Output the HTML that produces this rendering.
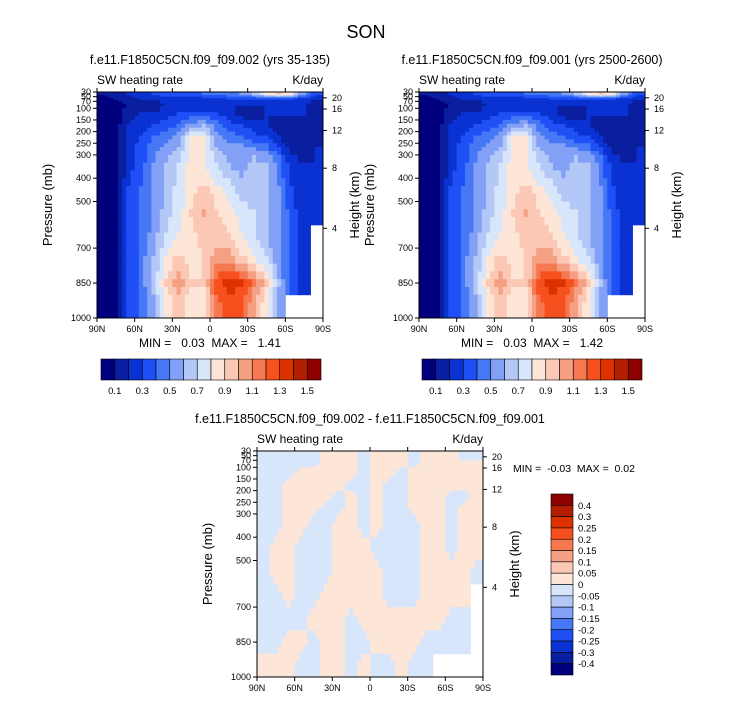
<!DOCTYPE html>
<html><head><meta charset="utf-8"><style>
html,body{margin:0;padding:0;background:#fff;}
svg{display:block;font-family:"Liberation Sans",Arial,sans-serif;}
text{white-space:pre;}
</style></head><body>
<svg id="fig" width="733" height="701" viewBox="0 0 733 701" xmlns="http://www.w3.org/2000/svg">
<text x="366" y="38" font-size="18" text-anchor="middle">SON</text>
<g id="root"></g>
</svg>
<script>
// ---- data ----
const lats=["90N","60N","30N","0","30S","60S","90S"];
const pTicks=[30,50,70,100,150,200,250,300,400,500,700,850,1000];
const hTicks=[20,16,12,8,4];
const hTickP=[55,103,195,357,615];
const pEdges=[30,50,70,100,150,200,250,300,400,500,600,700,800,900,1000];
const levels=[0.1,0.2,0.3,0.4,0.5,0.6,0.7,0.8,0.9,1.0,1.1,1.2,1.3,1.4,1.5];
const levelLabels=["0.1","0.3","0.5","0.7","0.9","1.1","1.3","1.5"];
const colors=["#00007f","#0a1ea0","#0a32d2","#1e50f5","#4678f5","#82a0f5","#b4c8f8","#d7e6fa","#fde6d7","#fac8b4","#f5a082","#f57850","#f5501e","#dc3200","#b41e00","#8c0000"];
const fieldA=[
[0.1,0.15,0.2,0.25,0.3,0.35,0.35,0.35,0.4,0.4,0.45,0.5,0.6,0.8,0.9,0.8,0.5,0.3],
[0.05,0.1,0.15,0.2,0.2,0.25,0.25,0.25,0.25,0.25,0.3,0.3,0.3,0.3,0.3,0.3,0.25,0.2],
[0.05,0.05,0.1,0.15,0.15,0.2,0.2,0.2,0.2,0.2,0.2,0.2,0.2,0.2,0.2,0.2,0.2,0.15],
[0.05,0.05,0.15,0.2,0.2,0.25,0.3,0.35,0.35,0.3,0.25,0.15,0.15,0.2,0.2,0.2,0.2,0.15],
[0.05,0.05,0.2,0.25,0.3,0.35,0.4,0.55,0.6,0.45,0.35,0.3,0.25,0.2,0.15,0.15,0.15,0.15],
[0.05,0.05,0.2,0.3,0.4,0.45,0.55,0.8,0.8,0.55,0.45,0.4,0.35,0.3,0.2,0.1,0.1,0.15],
[0.05,0.05,0.25,0.35,0.45,0.55,0.6,0.85,0.85,0.6,0.55,0.55,0.5,0.45,0.3,0.15,0.15,0.2],
[0.05,0.05,0.25,0.35,0.5,0.6,0.7,0.85,0.8,0.7,0.6,0.55,0.65,0.6,0.45,0.25,0.2,0.2],
[0.05,0.05,0.3,0.4,0.5,0.6,0.75,0.85,0.95,0.85,0.75,0.65,0.65,0.6,0.5,0.3,0.2,0.2],
[0.05,0.05,0.3,0.4,0.5,0.65,0.75,0.9,1.0,0.9,0.85,0.75,0.7,0.6,0.5,0.35,0.25,0.2],
[0.05,0.05,0.3,0.4,0.55,0.7,0.8,0.85,0.95,0.95,0.9,0.8,0.7,0.6,0.5,0.35,0.25,null],
[0.05,0.05,0.3,0.45,0.6,0.8,0.95,0.85,0.9,1.05,1.05,0.95,0.85,0.7,0.5,0.35,0.25,null],
[0.05,0.05,0.3,0.45,0.65,0.9,1.05,0.9,0.9,1.25,1.35,1.3,1.15,0.95,0.6,0.35,0.25,null],
[0.05,0.05,0.3,0.4,0.55,0.8,0.95,0.8,0.85,1.15,1.25,1.2,1.0,0.8,0.55,null,null,null]];
const fieldB=fieldA.map(r=>r.slice());
const diffLevels=[-0.4,-0.3,-0.25,-0.2,-0.15,-0.1,-0.05,0,0.05,0.1,0.15,0.2,0.25,0.3,0.4];
const diffLabels=["-0.4","-0.3","-0.25","-0.2","-0.15","-0.1","-0.05","0","0.05","0.1","0.15","0.2","0.25","0.3","0.4"];
const fieldD=[
[-1,-1,-1,-1,-1,1,1,1,-1,1,1,1,-1,1,1,1,-1,-1],
[-1,-1,-1,-1,-1,1,1,1,-1,1,1,1,-1,1,1,1,-1,-1],
[-1,-1,-1,-1,-1,1,1,1,-1,1,1,1,-1,1,1,1,1,1],
[-1,-1,-1,1,1,1,1,1,-1,1,1,-1,1,1,1,1,1,1],
[-1,-1,1,1,1,1,1,-1,-1,1,-1,-1,1,1,1,1,1,1],
[-1,-1,1,1,1,1,-1,1,-1,1,-1,-1,1,1,1,-1,-1,1],
[-1,-1,1,1,1,-1,-1,1,-1,1,-1,-1,1,1,1,-1,1,1],
[-1,-1,1,1,-1,-1,1,1,-1,1,-1,-1,-1,1,1,-1,1,1],
[-1,1,1,-1,-1,-1,1,1,1,-1,-1,-1,-1,1,1,-1,1,1],
[-1,1,1,-1,-1,-1,1,1,1,1,-1,-1,-1,1,1,1,1,-1],
[-1,-1,1,-1,-1,1,1,1,1,1,-1,-1,-1,1,1,1,1,null],
[-1,-1,-1,-1,1,1,1,-1,1,1,1,1,1,1,1,-1,-1,null],
[-1,-1,1,1,-1,1,1,-1,-1,1,1,1,1,-1,-1,-1,-1,null],
[1,1,1,-1,-1,1,1,-1,1,-1,-1,1,-1,-1,null,null,null,null]].map(r=>r.map(v=>v===null?null:v*0.01));

// ---- drawing ----
const NS="http://www.w3.org/2000/svg";
const root=document.getElementById('root');
function mk(tag,attrs,parent,txt){const e=document.createElementNS(NS,tag);for(const k in attrs)e.setAttribute(k,attrs[k]);if(txt!==undefined)e.textContent=txt;(parent||root).appendChild(e);return e;}
function colorFor(v,lv){if(v===null)return null;let i=0;while(i<lv.length&&v>=lv[i])i++;return colors[i];}
function sample(field,r,c){ // r,c continuous cell-center coords
  const R=field.length,C=field[0].length;
  const ri=Math.min(R-1,Math.max(0,Math.floor(r+0.5))),ci=Math.min(C-1,Math.max(0,Math.floor(c+0.5)));
  const own=field[ri][ci]; if(own===null) return null;
  const r0=Math.max(0,Math.min(R-1,Math.floor(r))),c0=Math.max(0,Math.min(C-1,Math.floor(c)));
  const r1=Math.min(R-1,r0+1),c1=Math.min(C-1,c0+1);
  const fr=Math.max(0,Math.min(1,r-r0)),fc=Math.max(0,Math.min(1,c-c0));
  const g=(a,b)=>{const v=field[a][b];return v===null?own:v;};
  return (g(r0,c0)*(1-fc)+g(r0,c1)*fc)*(1-fr)+(g(r1,c0)*(1-fc)+g(r1,c1)*fc)*fr;
}
const SUB=3;
function panel(px,py,field,lv,name,title,showMinMax,mm){
  const W=226,H=226;
  const g=mk('g',{});
  
  
  const xs=i=>px+i*W/18;
  const ys=p=>py+(p-30)/970*H;
  const t=mk('text',{x:px+W/2,y:py-28,'font-size':12.5,'text-anchor':'middle'},g,title);
  
  
  const s1=mk('text',{x:px,y:py-8,'font-size':12},g,'SW heating rate');
  
  
  const s2=mk('text',{x:px+W,y:py-8,'font-size':12,'text-anchor':'end'},g,'K/day');
  
  
  for(let r=0;r<field.length;r++)for(let c=0;c<18;c++){
    const y0=ys(pEdges[r]),y1=ys(pEdges[r+1]);
    const dh=(y1-y0)/SUB,dw=W/18/SUB;
    for(let a=0;a<SUB;a++)for(let b=0;b<SUB;b++){
      const v=sample(field,r+(a+0.5)/SUB-0.5,c+(b+0.5)/SUB-0.5);
      const col=colorFor(v,lv);if(!col)continue;
      const rc=mk('rect',{x:xs(c)+b*dw,y:y0+a*dh,width:dw+0.5,height:dh+0.5,fill:col},g);
      
      
    }
  }
  const fr=mk('rect',{x:px,y:py,width:W,height:H,fill:'none',stroke:'#000','stroke-width':1},g);
  
  
  lats.forEach((l,i)=>{const x=px+i*W/6;
    mk('line',{x1:x,x2:x,y1:py+H,y2:py+H+4,stroke:'#000'},g);
    mk('line',{x1:x,x2:x,y1:py,y2:py-4,stroke:'#000'},g);
    const tl=mk('text',{x:x,y:py+H+14,'font-size':9,'text-anchor':'middle'},g,l);
    
    });
  pTicks.forEach(p=>{const y=ys(p);
    mk('line',{x1:px,x2:px-4,y1:y,y2:y,stroke:'#000'},g);
    const tl=mk('text',{x:px-6,y:y+3,'font-size':9,'text-anchor':'end'},g,String(p));
    
    });
  hTicks.forEach((h,i)=>{const y=ys(hTickP[i]);
    mk('line',{x1:px+W,x2:px+W+4,y1:y,y2:y,stroke:'#000'},g);
    const tl=mk('text',{x:px+W+9,y:y+3,'font-size':9},g,String(h));
    
    });
  const ya=mk('text',{x:0,y:0,'font-size':13,'text-anchor':'middle',transform:`translate(${px-45},${py+H/2}) rotate(-90)`},g,'Pressure (mb)');
  
  
  const yb=mk('text',{x:0,y:0,'font-size':13,'text-anchor':'middle',transform:`translate(${px+W+36},${py+H/2}) rotate(-90)`},g,'Height (km)');
  
  
  if(showMinMax){const m=mk('text',{x:px+W/2,y:py+H+29,'font-size':12,'text-anchor':'middle'},g,mm);
    
    }
  return g;
}
function hbar(x,y,w,h,name){
  const g=mk('g',{});
  
  
  const bw=w/16;
  colors.forEach((c,i)=>{const r=mk('rect',{x:x+i*bw,y:y,width:bw,height:h,fill:c,stroke:'#000','stroke-width':0.6},g);
    
    });
  levelLabels.forEach((l,i)=>{const t=mk('text',{x:x+(1+2*i)*bw,y:y+h+14,'font-size':9.5,'text-anchor':'middle'},g,l);
    
    });
}
function vbar(x,y,w,h){
  const g=mk('g',{});
  
  
  const bh=h/16;
  colors.slice().reverse().forEach((c,i)=>{const r=mk('rect',{x:x,y:y+i*bh,width:w,height:bh,fill:c,stroke:'#000','stroke-width':0.6},g);
    
    });
  diffLabels.slice().reverse().forEach((l,i)=>{const t=mk('text',{x:x+w+5,y:y+(i+1)*bh+3.5,'font-size':9.5},g,l);
    
    });
}
panel(97,92,fieldA,levels,'panel-yrs-35-135','f.e11.F1850C5CN.f09_f09.002 (yrs 35-135)',true,'MIN =   0.03  MAX =   1.41');
panel(419,92,fieldB,levels,'panel-yrs-2500-2600','f.e11.F1850C5CN.f09_f09.001 (yrs 2500-2600)',true,'MIN =   0.03  MAX =   1.42');
hbar(101,359,220,21,'colorbar-left');
hbar(422,359,220,21,'colorbar-right');
panel(257,451,fieldD,diffLevels,'panel-difference','f.e11.F1850C5CN.f09_f09.002 - f.e11.F1850C5CN.f09_f09.001',false,'');
const mm=mk('text',{x:513,y:472,'font-size':10.5},root,'MIN =  -0.03  MAX =  0.02');


vbar(551,494,22,181);
</script>
</body></html>
